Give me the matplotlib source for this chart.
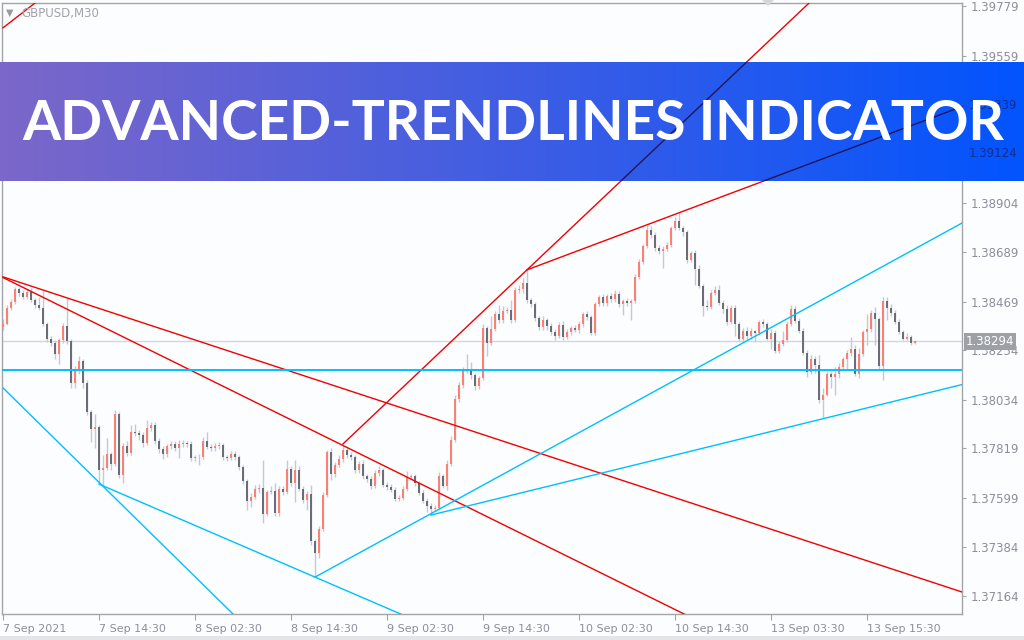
import matplotlib
matplotlib.use("Agg")
import matplotlib.pyplot as plt
import numpy as np
from matplotlib.patches import Rectangle, Polygon
from matplotlib.transforms import blended_transform_factory

# ---------------- data (GBPUSD, M30) ----------------
first_open = 1.38357
close = [
1.38370, 1.38441, 1.38468, 1.38525, 1.38508, 1.38490, 1.38512, 1.38477, 1.38454, 1.38441,
1.38370, 1.38304, 1.38286, 1.38237, 1.38299, 1.38361, 1.38295, 1.38109, 1.38167, 1.38206,
1.38109, 1.37980, 1.37905, 1.37914, 1.37724, 1.37732, 1.37794, 1.37750, 1.37972, 1.37701,
1.37830, 1.37799, 1.37892, 1.37887, 1.37879, 1.37843, 1.37910, 1.37923, 1.37852, 1.37817,
1.37794, 1.37830, 1.37839, 1.37821, 1.37839, 1.37843, 1.37839, 1.37777, 1.37779, 1.37783,
1.37852, 1.37825, 1.37821, 1.37830, 1.37834, 1.37781, 1.37777, 1.37794, 1.37781, 1.37737,
1.37675, 1.37586, 1.37604, 1.37639, 1.37644, 1.37529, 1.37626, 1.37630, 1.37533, 1.37639,
1.37626, 1.37728, 1.37666, 1.37724, 1.37639, 1.37591, 1.37617, 1.37409, 1.37356, 1.37462,
1.37613, 1.37803, 1.37706, 1.37746, 1.37772, 1.37812, 1.37790, 1.37781, 1.37724, 1.37750,
1.37697, 1.37684, 1.37653, 1.37710, 1.37724, 1.37657, 1.37648, 1.37635, 1.37595, 1.37599,
1.37639, 1.37692, 1.37697, 1.37666, 1.37622, 1.37586, 1.37564, 1.37551, 1.37555, 1.37697,
1.37653, 1.37750, 1.37856, 1.38038, 1.38100, 1.38162, 1.38171, 1.38144, 1.38096, 1.38131,
1.38353, 1.38286, 1.38348, 1.38415, 1.38388, 1.38428, 1.38432, 1.38388, 1.38521, 1.38525,
1.38552, 1.38477, 1.38459, 1.38397, 1.38357, 1.38388, 1.38361, 1.38335, 1.38317, 1.38366,
1.38313, 1.38335, 1.38353, 1.38344, 1.38370, 1.38415, 1.38401, 1.38330, 1.38459, 1.38490,
1.38463, 1.38494, 1.38481, 1.38503, 1.38459, 1.38472, 1.38463, 1.38472, 1.38579, 1.38645,
1.38716, 1.38787, 1.38765, 1.38707, 1.38694, 1.38703, 1.38720, 1.38796, 1.38827, 1.38796,
1.38778, 1.38654, 1.38685, 1.38614, 1.38539, 1.38450, 1.38446, 1.38508, 1.38521, 1.38463,
1.38437, 1.38379, 1.38441, 1.38370, 1.38304, 1.38339, 1.38317, 1.38339, 1.38330, 1.38379,
1.38370, 1.38304, 1.38330, 1.38251, 1.38282, 1.38299, 1.38370, 1.38437, 1.38384, 1.38339,
1.38242, 1.38158, 1.38215, 1.38189, 1.38034, 1.38056, 1.38149, 1.38136, 1.38149, 1.38180,
1.38215, 1.38242, 1.38260, 1.38149, 1.38237, 1.38335, 1.38348, 1.38419, 1.38392, 1.38184,
1.38472, 1.38441, 1.38419, 1.38379, 1.38335, 1.38304, 1.38313, 1.38286, 1.38294,
]
high = [
1.38392, 1.38454, 1.38481, 1.38534, 1.38534, 1.38521, 1.38525, 1.38530, 1.38485, 1.38490,
1.38516, 1.38379, 1.38317, 1.38299, 1.38308, 1.38375, 1.38485, 1.38304, 1.38184, 1.38229,
1.38215, 1.38122, 1.37989, 1.37972, 1.37923, 1.37790, 1.37865, 1.37803, 1.37989, 1.37980,
1.37843, 1.37852, 1.37923, 1.37927, 1.37901, 1.37892, 1.37945, 1.37936, 1.37936, 1.37865,
1.37830, 1.37839, 1.37852, 1.37852, 1.37856, 1.37856, 1.37852, 1.37852, 1.37790, 1.37794,
1.37870, 1.37892, 1.37839, 1.37843, 1.37848, 1.37843, 1.37790, 1.37808, 1.37808, 1.37790,
1.37746, 1.37684, 1.37622, 1.37657, 1.37661, 1.37768, 1.37635, 1.37653, 1.37666, 1.37653,
1.37653, 1.37768, 1.37741, 1.37768, 1.37741, 1.37653, 1.37630, 1.37657, 1.37418, 1.37475,
1.37626, 1.37812, 1.37821, 1.37759, 1.37790, 1.37839, 1.37825, 1.37803, 1.37790, 1.37763,
1.37768, 1.37706, 1.37697, 1.37724, 1.37741, 1.37732, 1.37670, 1.37661, 1.37648, 1.37613,
1.37653, 1.37719, 1.37706, 1.37706, 1.37675, 1.37635, 1.37599, 1.37577, 1.37568, 1.37715,
1.37706, 1.37768, 1.37874, 1.38056, 1.38113, 1.38180, 1.38237, 1.38202, 1.38153, 1.38140,
1.38370, 1.38361, 1.38406, 1.38428, 1.38454, 1.38450, 1.38446, 1.38477, 1.38534, 1.38543,
1.38574, 1.38610, 1.38485, 1.38468, 1.38406, 1.38406, 1.38397, 1.38375, 1.38348, 1.38379,
1.38384, 1.38348, 1.38361, 1.38366, 1.38384, 1.38423, 1.38428, 1.38410, 1.38468, 1.38499,
1.38503, 1.38503, 1.38508, 1.38521, 1.38516, 1.38481, 1.38485, 1.38481, 1.38592, 1.38658,
1.38725, 1.38809, 1.38804, 1.38778, 1.38720, 1.38716, 1.38734, 1.38804, 1.38844, 1.38866,
1.38804, 1.38787, 1.38694, 1.38698, 1.38632, 1.38547, 1.38477, 1.38521, 1.38539, 1.38543,
1.38477, 1.38454, 1.38454, 1.38454, 1.38379, 1.38353, 1.38357, 1.38353, 1.38344, 1.38388,
1.38392, 1.38379, 1.38348, 1.38344, 1.38295, 1.38339, 1.38384, 1.38454, 1.38450, 1.38397,
1.38353, 1.38255, 1.38233, 1.38229, 1.38233, 1.38087, 1.38162, 1.38162, 1.38180, 1.38198,
1.38224, 1.38255, 1.38313, 1.38277, 1.38264, 1.38344, 1.38415, 1.38432, 1.38446, 1.38401,
1.38490, 1.38490, 1.38459, 1.38432, 1.38392, 1.38344, 1.38330, 1.38322, 1.38299,
]
low = [
1.38344, 1.38366, 1.38432, 1.38459, 1.38494, 1.38481, 1.38481, 1.38468, 1.38441, 1.38432,
1.38361, 1.38291, 1.38273, 1.38215, 1.38193, 1.38286, 1.38282, 1.38087, 1.38087, 1.38149,
1.38087, 1.37967, 1.37848, 1.37821, 1.37661, 1.37657, 1.37724, 1.37724, 1.37741, 1.37688,
1.37666, 1.37786, 1.37790, 1.37874, 1.37856, 1.37825, 1.37834, 1.37896, 1.37839, 1.37799,
1.37772, 1.37781, 1.37817, 1.37808, 1.37777, 1.37825, 1.37825, 1.37763, 1.37763, 1.37746,
1.37772, 1.37817, 1.37808, 1.37808, 1.37817, 1.37768, 1.37763, 1.37768, 1.37768, 1.37724,
1.37661, 1.37546, 1.37560, 1.37595, 1.37622, 1.37489, 1.37520, 1.37617, 1.37520, 1.37520,
1.37613, 1.37617, 1.37653, 1.37582, 1.37630, 1.37577, 1.37546, 1.37391, 1.37249, 1.37334,
1.37453, 1.37604, 1.37679, 1.37692, 1.37737, 1.37759, 1.37777, 1.37768, 1.37710, 1.37710,
1.37684, 1.37670, 1.37639, 1.37644, 1.37697, 1.37648, 1.37635, 1.37626, 1.37586, 1.37586,
1.37591, 1.37630, 1.37679, 1.37653, 1.37613, 1.37577, 1.37537, 1.37524, 1.37542, 1.37546,
1.37644, 1.37635, 1.37741, 1.37848, 1.38025, 1.38087, 1.38153, 1.38127, 1.38078, 1.38082,
1.38122, 1.38229, 1.38277, 1.38339, 1.38375, 1.38375, 1.38419, 1.38375, 1.38379, 1.38508,
1.38508, 1.38463, 1.38446, 1.38384, 1.38344, 1.38344, 1.38344, 1.38322, 1.38299, 1.38308,
1.38299, 1.38304, 1.38322, 1.38335, 1.38330, 1.38357, 1.38388, 1.38322, 1.38322, 1.38450,
1.38450, 1.38450, 1.38468, 1.38468, 1.38446, 1.38410, 1.38450, 1.38388, 1.38463, 1.38570,
1.38636, 1.38707, 1.38751, 1.38694, 1.38680, 1.38618, 1.38694, 1.38711, 1.38787, 1.38787,
1.38760, 1.38641, 1.38645, 1.38543, 1.38530, 1.38406, 1.38432, 1.38437, 1.38499, 1.38454,
1.38419, 1.38366, 1.38370, 1.38317, 1.38295, 1.38295, 1.38299, 1.38304, 1.38291, 1.38322,
1.38357, 1.38299, 1.38260, 1.38242, 1.38242, 1.38273, 1.38291, 1.38361, 1.38375, 1.38330,
1.38233, 1.38136, 1.38149, 1.38153, 1.38020, 1.37954, 1.38051, 1.38087, 1.38056, 1.38131,
1.38171, 1.38167, 1.38229, 1.38140, 1.38131, 1.38229, 1.38277, 1.38335, 1.38277, 1.38167,
1.38122, 1.38388, 1.38406, 1.38370, 1.38326, 1.38299, 1.38299, 1.38277, 1.38282,
]

price_ticks = [1.39779, 1.39559, 1.39339, 1.39124, 1.38904, 1.38689, 1.38469,
               1.38254, 1.38034, 1.37819, 1.37599, 1.37384, 1.37164]
banner_ticks = [1.39339, 1.39124]   # labels that sit behind the banner
time_tick_bars = [0, 24, 48, 72, 96, 120, 144, 168, 192, 216]
time_tick_labels = ["7 Sep 2021", "7 Sep 14:30", "8 Sep 02:30", "8 Sep 14:30",
                    "9 Sep 02:30", "9 Sep 14:30", "10 Sep 02:30", "10 Sep 14:30",
                    "13 Sep 03:30", "13 Sep 15:30"]
current_price = 1.38294
support_level = 1.38167

# trendlines: (bar_a, price_a, bar_b, price_b) -> ray from a through b
red_trendlines = [
    (0, 1.38579, 124, 1.37857),     # shallow falling line
    (0, 1.38576, 85, 1.37832),      # steeper falling line
    (85, 1.37839, 131, 1.38610),    # steep rising line
    (131, 1.38610, 175.5, 1.38906), # rising resistance
    (0, 1.39682, 8, 1.39792),       # top-left fragment
]
cyan_trendlines = [
    (0, 1.38087, 24, 1.37669),      # steep falling support
    (24, 1.37661, 78, 1.37249),     # falling support from 7 Sep
    (78, 1.37249, 124, 1.37695),    # rising support from the low
    (107, 1.37524, 229, 1.38055),   # shallow rising support
]
chart_title = "ADVANCED-TRENDLINES INDICATOR"
symbol_label = "GBPUSD,M30"

# ---------------- styling ----------------
W, H, DPI = 1024, 640, 100
BG = "#fcfdff"
BULL = "#fa8072"
BEAR = "#686d76"
WICK = "#c5c9d2"
AXC = "#a4a4a8"
LBL = "#8e8e9a"
RED = "#f20000"
CYAN = "#00bfff"
X_END = 239.75

fig = plt.figure(figsize=(W / DPI, H / DPI), dpi=DPI, facecolor=BG)


def fx(px):
    return px / W


def fy(py):
    return 1 - py / H


ax_rect = [fx(2), fy(614), fx(962) - fx(2), fy(3) - fy(614)]
ax = fig.add_axes(ax_rect)
ax.set_facecolor(BG)
ax.set_xlim(-0.25, X_END)
ax.set_ylim(1.370856, 1.39792)

n = min(len(close), len(high), len(low))
c = np.array(close[:n])
o = np.array([first_open] + close[:n - 1])
hi = np.array(high[:n])
lo = np.array(low[:n])
xb = np.arange(n)
bull = c >= o

# current price line (behind candles)
ax.axhline(current_price, color="#d3d6dd", lw=1.0, zorder=1)

ax.vlines(xb, lo, hi, color=WICK, lw=1.0, zorder=2)
ax.bar(xb, np.maximum(np.abs(c - o), 0.00002), bottom=np.minimum(o, c), width=0.74,
       color=np.where(bull, BULL, BEAR), linewidth=0, zorder=3)


def ray(t):
    b0, p0, b1, p1 = t
    s = (p1 - p0) / (b1 - b0)
    return [b0, X_END], [p0, p0 + s * (X_END - b0)]


for t in red_trendlines:
    xs, ys = ray(t)
    ax.plot(xs, ys, color=RED, lw=1.0, zorder=4)
for t in cyan_trendlines:
    xs, ys = ray(t)
    ax.plot(xs, ys, color=CYAN, lw=1.0, zorder=4)
ax.axhline(support_level, color=CYAN, lw=1.4, zorder=4)

for sp in ax.spines.values():
    sp.set_color(AXC)
    sp.set_linewidth(1.0)

ax.yaxis.tick_right()
ax.set_yticks(price_ticks)
ax.set_yticklabels(["" if p in banner_ticks else f"{p:.5f}" for p in price_ticks])
ax.tick_params(axis="y", length=3, width=0.8, color=AXC, labelcolor=LBL,
               labelsize=8.5, pad=3)
ax.set_xticks(time_tick_bars)
ax.set_xticklabels(time_tick_labels, ha="left")
ax.tick_params(axis="x", length=4, width=0.8, color=AXC, labelcolor=LBL,
               labelsize=8, pad=3)

trans = blended_transform_factory(ax.transAxes, ax.transData)
ax.text(1.004, current_price, f"{current_price:.5f}", transform=trans, ha="left",
        va="center", color="white", fontsize=8.5, clip_on=False, zorder=10,
        bbox=dict(boxstyle="square,pad=0.18", fc="#9da1a5", ec="none"))

# symbol label
fig.text(fx(6), fy(13), "\u25BC", color="#9a9aa0", fontsize=7, va="center", ha="left")
fig.text(fx(21), fy(13), symbol_label, color="#a2a2aa", fontsize=8.5, va="center", ha="left")
# chart-shift marker at the top
fig.add_artist(Polygon([[fx(762), fy(0)], [fx(774), fy(0)], [fx(768), fy(6)]],
                       closed=True, transform=fig.transFigure,
                       facecolor="#d4d6da", edgecolor="none"))

# bottom strip
fig.add_artist(Rectangle((0, 0), 1, 4 / H, transform=fig.transFigure,
                         facecolor="#e4e5e8", edgecolor="none"))

# ---------------- banner ----------------
b_top, b_bot = 62, 181
bax = fig.add_axes([0, fy(b_bot), 1, (b_bot - b_top) / H])
left_c = np.array([124, 103, 201]) / 255
right_c = np.array([2, 84, 254]) / 255
g = np.linspace(0, 1, 600)[:, None]
grad = left_c * (1 - g) + right_c * g
bax.imshow(grad[None, :, :], aspect="auto", extent=[0, 1, 0, 1])
bax.set_xlim(0, 1)
bax.set_ylim(0, 1)
bax.axis("off")

# elements seen through the banner (multiplied colours)
oax = fig.add_axes(ax_rect)
oax.set_xlim(ax.get_xlim())
oax.set_ylim(ax.get_ylim())
oax.axis("off")
oax.patch.set_visible(False)
clip = Rectangle((0, fy(b_bot)), 1, (b_bot - b_top) / H, transform=fig.transFigure)
for t in red_trendlines[2:4]:
    xs, ys = ray(t)
    ln, = oax.plot(xs, ys, color="#26083c", lw=1.0, alpha=0.85)
    ln.set_clip_path(clip)
otrans = blended_transform_factory(oax.transAxes, oax.transData)
for p in banner_ticks:
    fig.text(1.0 + 7 / 960, p, f"{p:.5f}", transform=otrans, ha="left", va="center",
             color="#0b2f92", fontsize=8.5)

title = fig.text(fx(22), fy(140), chart_title, color="white", fontsize=40,
                 family="Lato", fontweight="bold", ha="left", va="baseline")
r = fig.canvas.get_renderer()
w = title.get_window_extent(r).width
title.set_fontsize(40 * (1003 - 22) / w)

fig.savefig("out.png", dpi=DPI, facecolor=BG)
